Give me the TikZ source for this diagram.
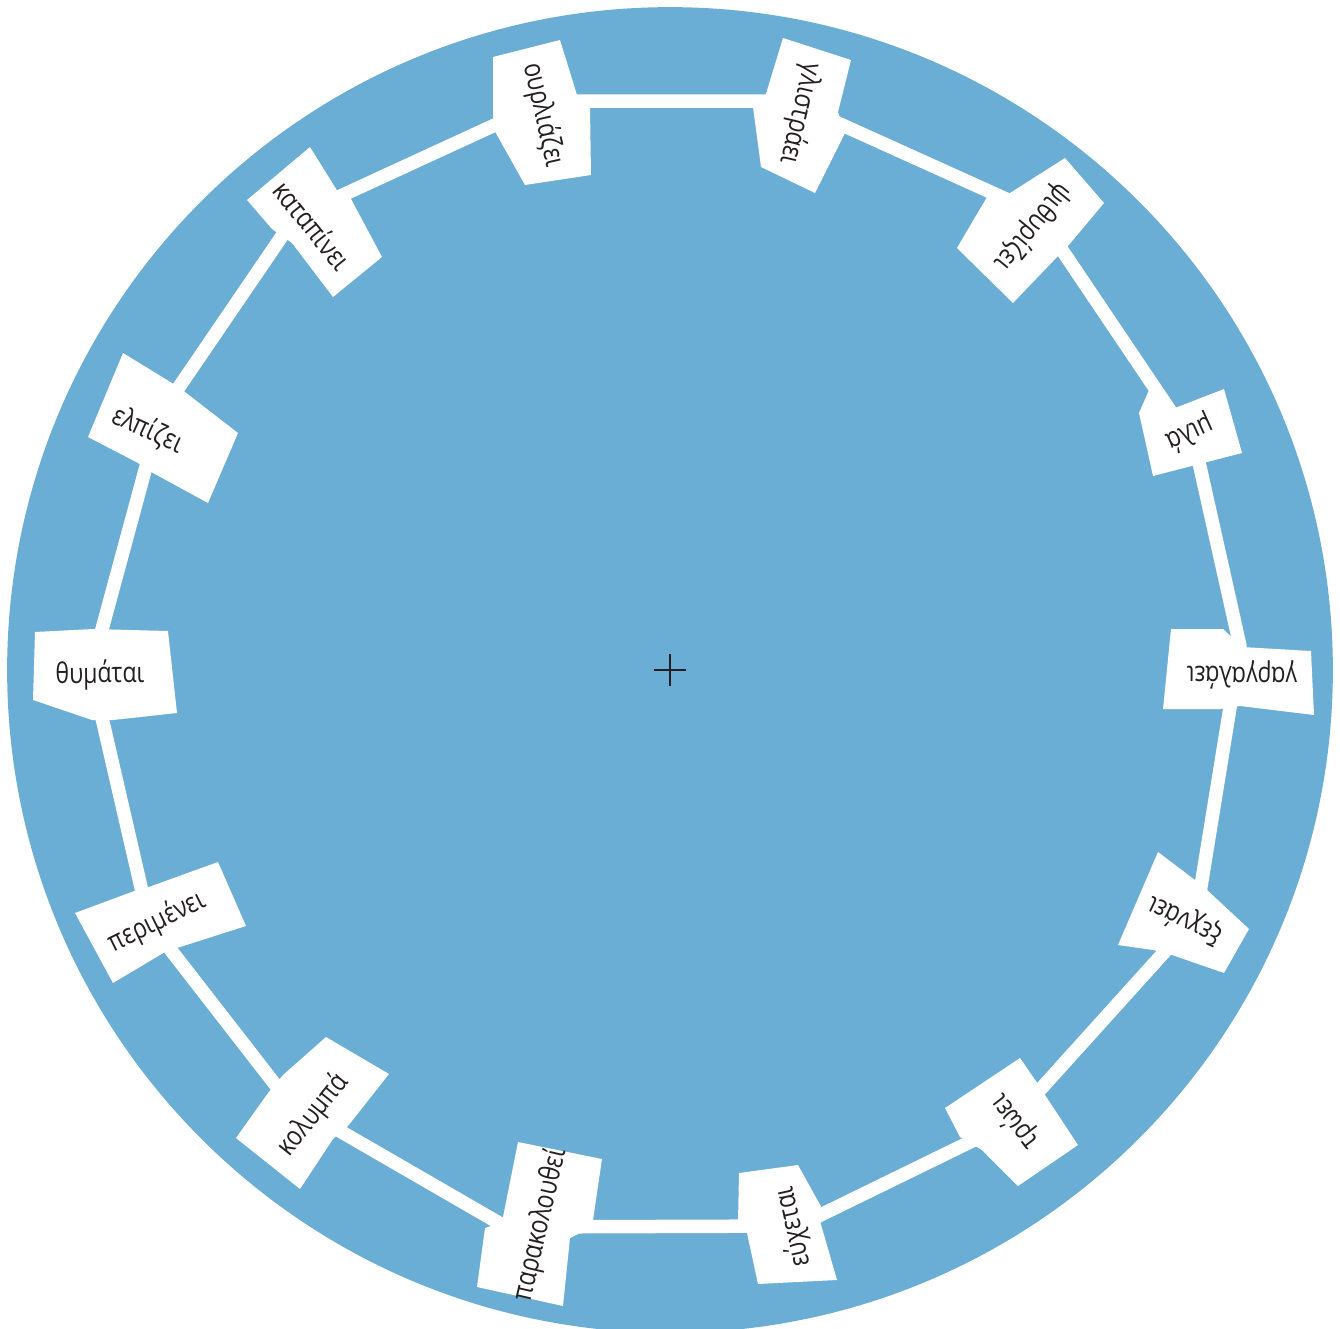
\documentclass[tikz,border=0pt]{standalone}
\usepackage{fontspec}
\setmainfont{Open Sans}[FakeStretch=0.82]
\usetikzlibrary{calc}
\definecolor{pool}{RGB}{106,173,213}
\definecolor{ink}{RGB}{35,31,32}
\tikzset{
disc/.style={fill=pool},
link/.style={draw=white,line width=2.7mm,line join=round},
card/.style={fill=white},
word/.style={font=\fontsize{16}{19}\selectfont,text=ink,inner sep=0pt},
crosshair/.style={draw=ink,line width=0.45mm}
}

\begin{document}
\begin{tikzpicture}[x=0.02cm,y=-0.02cm]
\useasboundingbox (0,0) rectangle (1340,1329);
\fill[disc] (670,670) circle[radius=13.26cm];

% hubs where the white band turns
\coordinate (h-our) at (547,101);
\coordinate (h-gli) at (789,101);
\coordinate (h-psi) at (1037,213);
\coordinate (h-mil) at (1196,449);
\coordinate (h-gar) at (1240,646);
\coordinate (h-xex) at (1196,917);
\coordinate (h-tro) at (1011,1122);
\coordinate (h-eux) at (798,1226);
\coordinate (h-par) at (506,1227);
\coordinate (h-kol) at (288,1101);
\coordinate (h-per) at (149,922);
\coordinate (h-thy) at (91,670);
\coordinate (h-elp) at (160,415);
\coordinate (h-kat) at (295,217);

\draw[link] (h-our) -- (h-gli) -- (h-psi) -- (h-mil) -- (h-gar) -- (h-xex) -- (h-tro)
  -- (h-eux) -- (h-par) -- (h-kol) -- (h-per) -- (h-thy) -- (h-elp) -- (h-kat) -- cycle;

% cards
\fill[card] (493,57) -- (560,40) -- (577,95) -- (590,107) -- (591,175) -- (525,185) -- (493,128) -- cycle;
\fill[card] (783,38) -- (851,60) -- (838,112) -- (845,133) -- (815,193) -- (761,167) -- (753,107) -- (765,97) -- cycle;
\fill[card] (1065,158) -- (1104,203) -- (1068,246) -- (1058,256) -- (1013,303) -- (957,248) -- (987,197) -- (1010,193) -- cycle;
\fill[card] (1149,390) -- (1175,408) -- (1224,389) -- (1242,453) -- (1153,476) -- (1139,413) -- cycle;
\fill[card] (1171,629) -- (1223,629) -- (1242,647) -- (1311,651) -- (1314,715) -- (1240,706) -- (1220,709) -- (1163,709) -- cycle;
\fill[card] (1158,852) -- (1195,880) -- (1206,889) -- (1249,929) -- (1224,973) -- (1172,955) -- (1153,950) -- (1118,945) -- cycle;
\fill[card] (1020,1058) -- (1040,1087) -- (1045,1095) -- (1078,1145) -- (1018,1186) -- (982,1150) -- (960,1137) -- (945,1108) -- cycle;
\fill[card] (739,1173) -- (798,1165) -- (823,1210) -- (820,1221) -- (837,1280) -- (758,1284) -- (747,1233) -- (738,1222) -- cycle;
\fill[card] (518,1142) -- (602,1159) -- (592,1227) -- (570,1238) -- (563,1306) -- (477,1287) -- (485,1228) -- (502,1222) -- cycle;
\fill[card] (326,1037) -- (389,1074) -- (348,1126) -- (333,1139) -- (300,1189) -- (236,1138) -- (268,1093) -- (283,1075) -- cycle;
\fill[card] (75,913) -- (137,890) -- (146,888) -- (218,862) -- (246,926) -- (177,948) -- (165,952) -- (113,983) -- cycle;
\fill[card] (35,632) -- (93,629) -- (168,631) -- (177,713) -- (113,720) -- (92,720) -- (33,700) -- cycle;
\fill[card] (123,353) -- (172,383) -- (185,392) -- (238,433) -- (208,503) -- (153,473) -- (138,463) -- (88,437) -- cycle;
\fill[card] (310,147) -- (338,192) -- (350,197) -- (382,257) -- (333,297) -- (292,243) -- (272,229) -- (247,200) -- cycle;

% words, read from the rim towards the middle
\node[word,rotate=-77.3] (w-our) at (543,115) {ουρλιάζει};
\node[word,rotate=-103.2] (w-gli) at (800,114) {γλιστράει};
\node[word,rotate=-129.3] (w-psi) at (1033,227) {ψιθυρίζει};
\node[word,rotate=-155.5] (w-mil) at (1190,433) {μιλά};
\node[word,rotate=179.5] (w-gar) at (1242,675) {γαργαλάει};
\node[word,rotate=154.6] (w-xex) at (1185,920) {ξεχνάει};
\node[word,rotate=127.4] (w-tro) at (1015,1122) {τρώει};
\node[word,rotate=102.5] (w-eux) at (793,1227) {εύχεται};
\node[word,rotate=76.9] (w-par) at (540,1225) {παρακολουθεί};
\node[word,rotate=51.3] (w-kol) at (313,1115) {κολυμπά};
\node[word,rotate=26.2] (w-per) at (157,922) {περιμένει};
\node[word,rotate=0.5] (w-thy) at (100,675) {θυμάται};
\node[word,rotate=-24.7] (w-elp) at (148,430) {ελπίζει};
\node[word,rotate=-51.3] (w-kat) at (313,225) {καταπίνει};

\draw[crosshair] (654,670) -- (686,670) (670,654) -- (670,686);
\end{tikzpicture}
\end{document}
